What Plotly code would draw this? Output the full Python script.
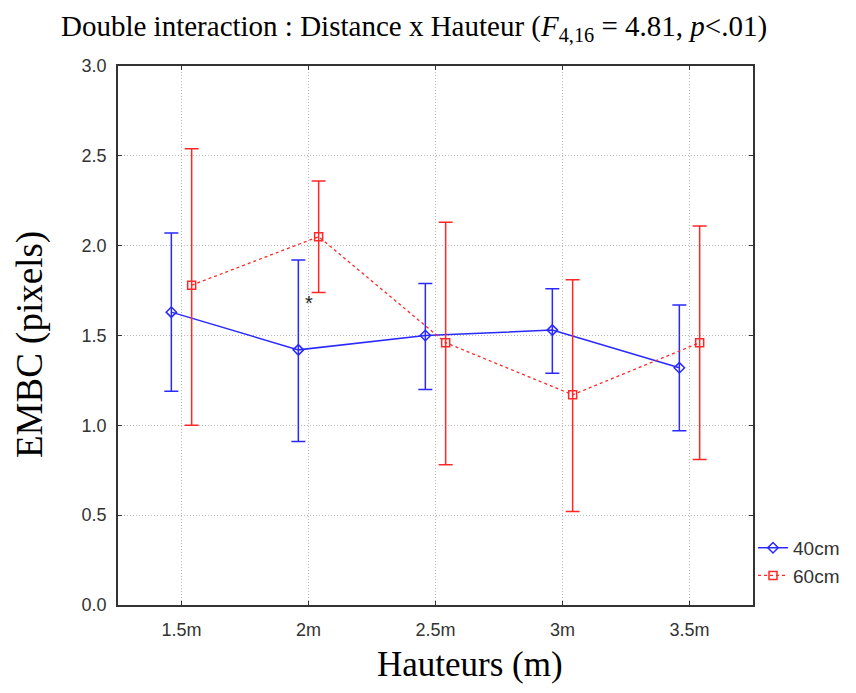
import plotly.graph_objects as go

hauteurs = ['1.5m', '2m', '2.5m', '3m', '3.5m']

moy_40 = [1.63, 1.42, 1.50, 1.53, 1.32]
bas_40 = [1.19, 0.91, 1.20, 1.29, 0.97]
haut_40 = [2.07, 1.92, 1.79, 1.76, 1.67]

moy_60 = [1.78, 2.05, 1.46, 1.17, 1.46]
bas_60 = [1.00, 1.74, 0.78, 0.52, 0.81]
haut_60 = [2.54, 2.36, 2.13, 1.81, 2.11]

BLEU = 'rgb(40,40,255)'
ROUGE = 'rgb(255,40,40)'
idx = list(range(len(hauteurs)))

fig = go.Figure()

for nom, moy, bas, haut, dx, col, sym, dash, lw in [
    ('40cm', moy_40, bas_40, haut_40, -0.08, BLEU, 'diamond-open', 'solid', 1.5),
    ('60cm', moy_60, bas_60, haut_60, 0.08, ROUGE, 'square-open', 'dot', 1.3),
]:
    fig.add_trace(
        go.Scatter(x=[i + dx for i in idx],
                   y=moy,
                   mode='lines+markers',
                   name=nom,
                   line=dict(color=col, width=lw, dash=dash),
                   marker=dict(symbol=sym, size=8, color=col,
                               line=dict(width=1.5, color=col)),
                   error_y=dict(type='data', symmetric=False,
                                array=[h - m for h, m in zip(haut, moy)],
                                arrayminus=[m - b for m, b in zip(moy, bas)],
                                color=col, thickness=1.5, width=7)
                   )
    )

# la page a une marge de 8px autour du graphique
fig.update_layout(
    width=856, height=693,
    template='plotly_white',
    plot_bgcolor='white', paper_bgcolor='white',
    margin=dict(l=110, r=111, t=58, b=96),
    font=dict(family='Liberation Sans, Arial', size=18, color='#333'),
    showlegend=True,
    legend=dict(x=1.0, xanchor='left', y=0.08, yanchor='middle',
                bgcolor='rgba(0,0,0,0)', font=dict(size=19, color='#333'),
                itemwidth=30, tracegroupgap=0),
)

axe = dict(showline=True, linecolor='#333', linewidth=1.5, mirror='ticks',
           ticks='inside', ticklen=4, tickcolor='#333',
           tickfont=dict(family='Liberation Sans, Arial', size=18, color='#333'),
           showgrid=True, gridcolor='#b8b8b8', griddash='1px,2px', gridwidth=1,
           zeroline=False)

fig.update_xaxes(axe, range=[-0.5, 4.5], tickvals=idx, ticktext=hauteurs,
                 ticklabelstandoff=8)
fig.update_yaxes(axe, range=[0, 3.0], dtick=0.5, tickformat='.1f',
                 ticklabelstandoff=6)

serif = 'Liberation Serif, Times New Roman, serif'
fig.add_annotation(
    text='Double interaction : Distance x Hauteur (<i>F</i><sub>4,16</sub> = 4.81, <i>p</i>&lt;.01)',
    xref='paper', yref='paper', x=(414 - 118) / 635, y=(605 - 28) / 539,
    showarrow=False, font=dict(family=serif, size=29, color='black'),
    xanchor='center', yanchor='middle')
fig.add_annotation(
    text='Hauteurs (m)', xref='paper', yref='paper',
    x=(470 - 118) / 635, y=(605 - 664) / 539,
    showarrow=False, font=dict(family=serif, size=35, color='black'),
    xanchor='center', yanchor='middle')
fig.add_annotation(
    text='EMBC (pixels)', xref='paper', yref='paper',
    x=(30 - 118) / 635, y=(605 - 345) / 539, textangle=-90,
    showarrow=False, font=dict(family=serif, size=37, color='black'),
    xanchor='center', yanchor='middle')
fig.add_annotation(
    text='*', x=1, y=1.68, showarrow=False,
    font=dict(family='Liberation Sans, Arial', size=20, color='#222'),
    xanchor='center', yanchor='middle')

fig.write_html('out.html')
